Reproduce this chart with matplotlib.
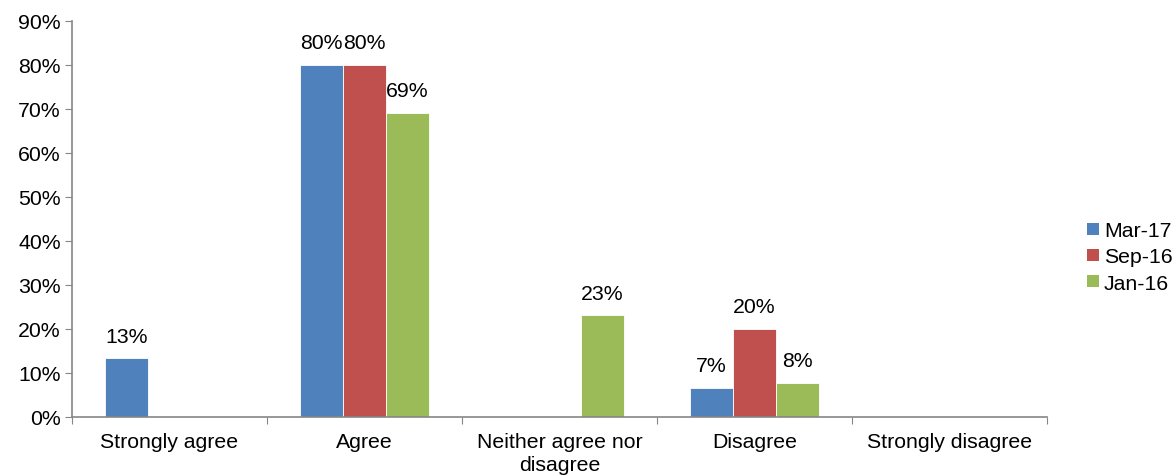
import matplotlib
matplotlib.use("Agg")
import matplotlib.pyplot as plt
import numpy as np
from matplotlib.patches import Patch

plt.rcParams['font.family'] = ['Liberation Sans', 'DejaVu Sans']

categories = ["Strongly agree", "Agree", "Neither agree nor\ndisagree", "Disagree", "Strongly disagree"]
series_names = ["Mar-17", "Sep-16", "Jan-16"]
mar17 = [13.3, 80.0, 0.0, 6.7, 0.0]
sep16 = [0.0, 80.0, 0.0, 20.0, 0.0]
jan16 = [0.0, 69.2, 23.1, 7.7, 0.0]
colors = ["#4F81BD", "#C0504D", "#9BBB59"]
y_ticks = [0, 10, 20, 30, 40, 50, 60, 70, 80, 90]

FS = 15.3

fig = plt.figure(figsize=(11.73, 4.77), dpi=100)
ax = fig.add_axes([72 / 1173, 59 / 477, 975 / 1173, 396 / 477])

x = np.arange(len(categories))
width = 0.22
series = [mar17, sep16, jan16]
for i, (vals, col) in enumerate(zip(series, colors)):
    pos = x + (i - 1) * width
    ax.bar(pos, vals, width=width, color=col, edgecolor="white", linewidth=0.6)
    for p, v in zip(pos, vals):
        if v > 0:
            ax.text(p, v + 2.9, f"{v:.0f}%", ha="center", va="bottom", fontsize=FS, color="#000000")

ax.set_xlim(-0.5, len(categories) - 0.5)
ax.set_ylim(0, 90)
ax.set_yticks(y_ticks)
ax.set_yticklabels([f"{t}%" for t in y_ticks], fontsize=FS)

ax.set_xticks(np.arange(len(categories) + 1) - 0.5)
ax.set_xticklabels([])
ax.set_xticks(x, minor=True)
ax.set_xticklabels(categories, minor=True, fontsize=FS, linespacing=1.25)
ax.tick_params(axis="x", which="minor", length=0, pad=11)
ax.tick_params(axis="x", which="major", length=5, color="#868686", direction="out")
ax.tick_params(axis="y", length=5, color="#868686", direction="out", pad=3)

for s in ["top", "right"]:
    ax.spines[s].set_visible(False)
for s in ["left", "bottom"]:
    ax.spines[s].set_color("#868686")
    ax.spines[s].set_linewidth(1.2)

handles = [Patch(facecolor=c, edgecolor="none", label=n) for c, n in zip(colors, series_names)]
fig.legend(handles=handles, loc="center left", bbox_to_anchor=(1072 / 1173, (477 - 258) / 477),
           frameon=False, fontsize=FS, handlelength=0.55, handleheight=0.55,
           handletextpad=0.25, labelspacing=0.33, borderpad=0.2)

fig.savefig("out.png", dpi=100, facecolor="white")
